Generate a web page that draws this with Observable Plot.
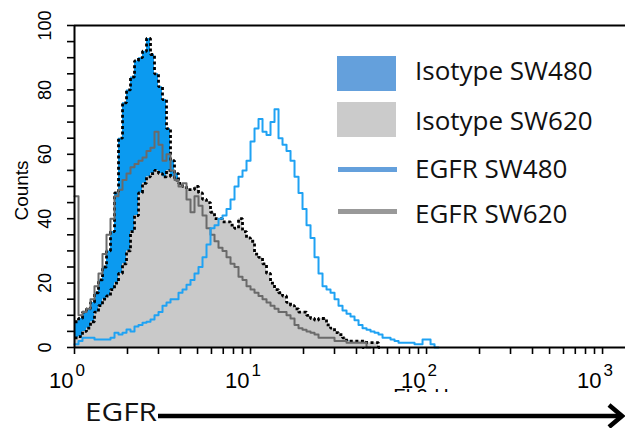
<!DOCTYPE html>
<html>
<head>
<meta charset="utf-8">
<script src="https://cdn.jsdelivr.net/npm/d3@7"></script>
<script src="https://cdn.jsdelivr.net/npm/@observablehq/plot@0.6"></script>
<style>
  html, body { margin: 0; padding: 0; background: #fff; }
  #wrap { position: relative; width: 625px; height: 428px; overflow: hidden; }
  #plotBox { position: absolute; left: 0; top: 0; width: 625px; height: 392px; overflow: hidden; }
  #legend { position: absolute; left: 0; top: 0; pointer-events: none; }
  #footer { position: absolute; left: 0; top: 392px; }
  #plotBox [aria-label$="axis tick"] path, #plotBox .tick line { stroke-width: 1.6; }
</style>
</head>
<body>
<div id="wrap">
  <div id="plotBox"></div>
  <svg id="legend" width="625" height="392"></svg>
  <svg id="footer" width="625" height="36"></svg>
</div>
<script>
// Histogram channels: 44 channels per decade on the log fluorescence axis
const channelsPerDecade = 44;

// Counts per channel (starting at 10^0)
const isotypeSW480 = [
  8, 9, 11, 12, 14, 17, 21, 25, 30, 36,
  48, 65, 76, 80, 84, 89, 90, 92, 96, 91,
  85, 81, 77, 68, 58, 54, 48, 46, 44, 43,
  42, 41, 40, 39, 37, 36, 35, 34, 33, 32,
  31, 30, 29, 27, 25, 23, 22, 20, 18, 16,
  15, 14, 13, 12, 11, 10, 9, 9, 8, 7,
  7, 6, 6, 5, 4, 3, 3, 2, 2, 1.5,
  1.5, 1, 0
];
const isotypeSW620 = [
  3, 3.4, 5, 6, 8, 11, 13, 15, 16, 18,
  20, 23, 26, 30, 36, 41, 48, 51, 53, 54,
  55, 54, 53, 55, 53, 52, 51, 50, 49, 49,
  50, 48, 46, 45, 42, 40, 40, 39, 39, 38,
  37, 40, 36, 34, 33, 29, 28, 26, 23, 20,
  18, 17, 16, 14, 13, 12, 11, 11, 10, 9,
  8.5, 9, 9, 7, 6, 4.6, 4, 3, 2, 2,
  2, 2, 2, 1.5, 1.5, 1.5, 0
];
const egfrSW480 = [
  1, 2, 3, 3, 3, 2.5, 2.5, 2.5, 2.5, 3,
  4.6, 4, 4.6, 5.6, 5, 6.5, 7, 7.7, 8, 8.7,
  10, 11, 13, 14, 15, 15, 17, 18, 19.5, 21,
  23, 25, 28, 32, 37, 38, 40, 41, 43, 46,
  50, 53, 55, 58, 64, 68, 71, 67, 66, 70,
  74, 65, 63, 61, 58, 53, 48, 43, 38, 34,
  28, 23, 19, 18, 17, 15, 13, 11.5, 10.5, 9.6,
  8.5, 7, 6, 5.5, 5, 4.6, 4, 3, 3, 2.5,
  2, 1.5, 1.5, 1.5, 1.5, 1, 1, 2.5, 2.5, 1,
  0
];
const egfrSW620 = [
  47, 10, 11, 12, 15, 19, 23, 29, 35, 40,
  47, 49, 52, 54, 56, 57, 58, 59, 61, 62,
  67, 63, 58, 60, 55, 52, 50, 51, 46, 42,
  47, 44, 41, 37, 35, 33, 31, 30, 28, 26,
  25, 22, 21, 19, 18, 17, 16, 15, 14, 13,
  12, 11, 11, 10, 9, 7, 6, 5.5, 5, 4.6,
  4, 3, 3, 3, 3, 2, 2, 2, 1.5, 1.5,
  1.5, 1.5, 1.5, 0
];

// Axis ticks and labels
const decadeTicks = [1, 10, 100, 1000];
const decadeExponents = ["0", "1", "2", "3"];
const countLabels = [0, 20, 40, 60, 80, 100];
const xAxisTitle = "FL2-H";
const yAxisTitle = "Counts";

// Legend
const legendLabels = ["Isotype SW480", "Isotype SW620", "EGFR SW480", "EGFR SW620"];
const legendColors = ["#64a0dc", "#cbcbcb", "#64a0dc", "#999999"];
const legendKinds = ["fill", "fill", "line", "line"];
const markerLabel = "EGFR";

// Plot colours
const blueFill = "#0b9af0";
const grayFill = "#c9c9c9";
const blueLine = "#1fa2f3";
const grayLine = "#6a6a6a";

function histogram(counts) {
  const rows = counts.map((count, i) => ({channel: 10 ** (i / channelsPerDecade), count}));
  rows.push({channel: 10 ** (counts.length / channelsPerDecade), count: 0});
  return rows;
}
const iso480 = histogram(isotypeSW480);
const iso620 = histogram(isotypeSW620);
const egfr480 = histogram(egfrSW480);
const egfr620 = histogram(egfrSW620);

// minor + major ticks on the log axis
const xTicks = [];
for (const d of decadeTicks) for (let k = 1; k <= 9; ++k) if (d * k <= 1350) xTicks.push(d * k);
const yTicks = d3.range(0, 101, 5);

const xMax = 1350;
// dotted black outline of the isotype histograms
const dots = {stroke: "black", strokeWidth: 2.8, strokeDasharray: "3,2.6", strokeLinecap: "butt",
  strokeLinejoin: "miter", curve: "step-after"};
const labels = decadeTicks.map((v, i) => ({v, e: decadeExponents[i]}));

const plot = Plot.plot({
  width: 625,
  height: 392,
  marginLeft: 74,
  marginRight: 0,
  marginTop: 25,
  marginBottom: 45,
  style: {fontFamily: "'Liberation Sans', Arial, sans-serif", background: "transparent", overflow: "hidden", color: "black"},
  x: {type: "log", domain: [1, xMax], ticks: xTicks, tickSize: 7, tickFormat: () => "", label: null},
  y: {domain: [0, 100], ticks: yTicks, tickSize: 7, tickFormat: () => "", label: null},
  marks: [
    Plot.areaY(iso480, {x: "channel", y: "count", curve: "step-after", fill: blueFill}),
    Plot.lineY(iso480, {x: "channel", y: "count", ...dots}),
    Plot.areaY(iso620, {x: "channel", y: "count", curve: "step-after", fill: grayFill}),
    Plot.lineY(iso620, {x: "channel", y: "count", ...dots}),
    Plot.lineY(egfr620, {x: "channel", y: "count", curve: "step-after", stroke: grayLine, strokeWidth: 2}),
    Plot.lineY(egfr480, {x: "channel", y: "count", curve: "step-after", stroke: blueLine, strokeWidth: 2}),
    Plot.ruleX([1], {stroke: "black", strokeWidth: 2}),
    Plot.ruleY([0], {stroke: "black", strokeWidth: 2}),
    Plot.ruleY([100], {stroke: "black", strokeWidth: 2}),
    Plot.text(countLabels, {y: d => d, text: d => String(d), frameAnchor: "left", dx: -29,
      rotate: -90, textAnchor: "middle", lineAnchor: "middle", fontSize: 18, fill: "black"}),
    Plot.text([yAxisTitle], {frameAnchor: "left", dx: -53, dy: 4, rotate: -90,
      textAnchor: "middle", lineAnchor: "middle", fontSize: 19, fill: "black"}),
    Plot.text(labels, {x: "v", text: () => "10", frameAnchor: "bottom", textAnchor: "end",
      lineAnchor: "bottom", dx: -1, dy: 40, fontSize: 22, fill: "black"}),
    Plot.text(labels, {x: "v", text: "e", frameAnchor: "bottom", textAnchor: "start",
      lineAnchor: "bottom", dx: 1, dy: 28, fontSize: 17, fill: "black"}),
    Plot.text([xAxisTitle], {x: () => 93, frameAnchor: "bottom", textAnchor: "middle",
      lineAnchor: "bottom", dy: 55, fontSize: 20, fill: "black"})
  ]
});
document.getElementById("plotBox").appendChild(plot);

// Legend drawn over the empty upper-right part of the plot
const legend = d3.select("#legend");
const textBaselines = [80, 130, 178, 223];
legendLabels.forEach((label, i) => {
  if (legendKinds[i] === "fill") {
    legend.append("rect").attr("x", 337).attr("y", 56 + 46 * i).attr("width", 59).attr("height", 35)
      .attr("fill", legendColors[i]);
  } else {
    legend.append("rect").attr("x", 338).attr("y", 167 + 42 * (i - 2)).attr("width", 59).attr("height", 5)
      .attr("fill", legendColors[i]);
  }
  legend.append("text").attr("x", 415).attr("y", textBaselines[i])
    .attr("font-family", "'Open Sans', sans-serif").attr("font-size", 26).attr("fill", "#111")
    .text(label);
});

// Marker direction arrow under the axis
const footer = d3.select("#footer");
footer.append("text").attr("x", 85).attr("y", 29)
  .attr("font-family", "'Open Sans', sans-serif").attr("font-size", 25).attr("fill", "#111")
  .attr("textLength", 72).attr("lengthAdjust", "spacingAndGlyphs")
  .text(markerLabel);
footer.append("line").attr("x1", 158).attr("x2", 621).attr("y1", 24).attr("y2", 24)
  .attr("stroke", "black").attr("stroke-width", 4.5);
footer.append("path").attr("d", "M609,13 L622,24 L609,35").attr("fill", "none")
  .attr("stroke", "black").attr("stroke-width", 4.5).attr("stroke-linejoin", "miter");
</script>
</body>
</html>
